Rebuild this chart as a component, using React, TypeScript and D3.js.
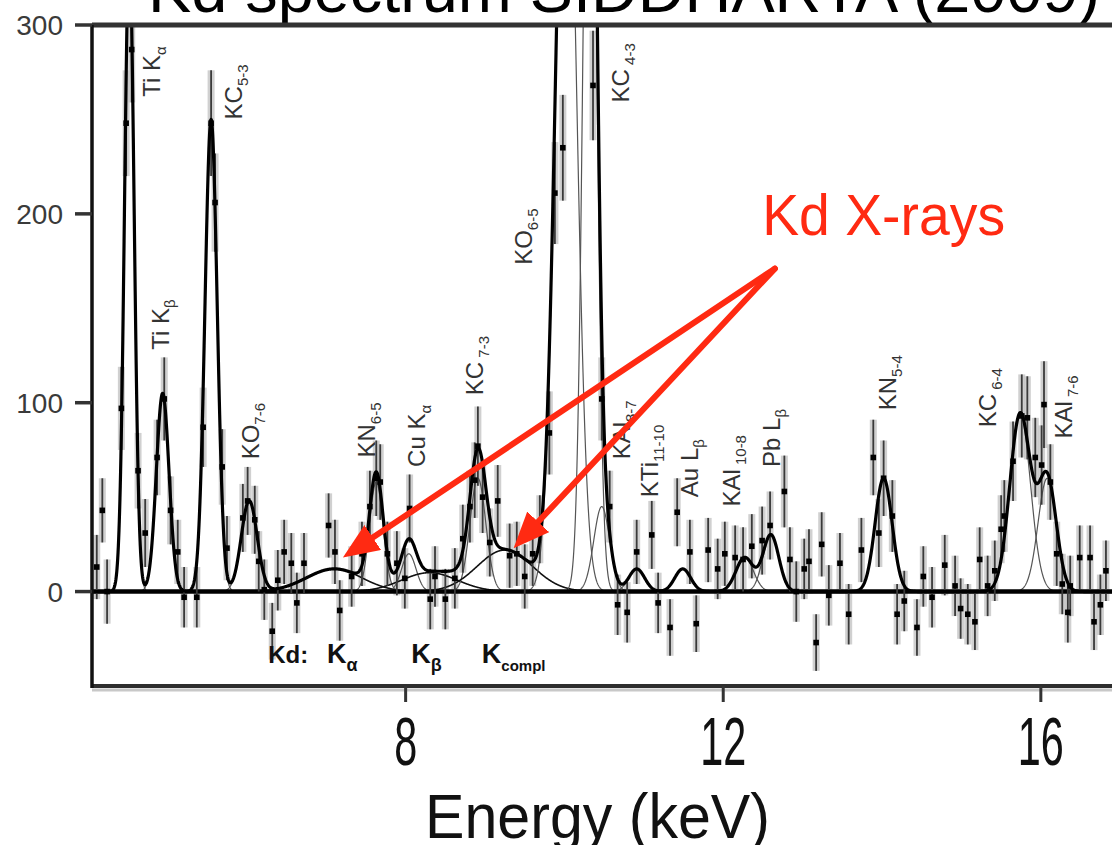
import React from "react";
import * as d3 from "d3";

// ---------- axes ----------
const X_DOMAIN: [number, number] = [4.05, 17.5];
const Y_DOMAIN: [number, number] = [-50, 300];
const X_TICKS = [8, 12, 16];
const Y_TICKS = [0, 100, 200, 300];
const TITLE = "Kd spectrum SIDDHARTA (2009)";
const X_LABEL = "Energy (keV)";

// ---------- measured points (energy keV, counts, error) ----------
const energies = [
  4.11, 4.18, 4.24, 4.42, 4.48, 4.55, 4.63, 4.72, 4.87, 4.96, 5.04, 5.13, 5.21, 5.37, 5.45, 5.55, 5.6,
  5.69, 5.75, 5.95, 6.01, 6.1, 6.15, 6.22, 6.32, 6.39, 6.47, 6.56, 6.63, 6.72, 7.03, 7.11, 7.17, 7.32,
  7.45, 7.55, 7.63, 7.68, 7.77, 7.89, 7.99, 8.05, 8.31, 8.37, 8.5, 8.62, 8.72, 8.81, 8.87, 8.91, 8.97,
  9.06, 9.16, 9.31, 9.4, 9.5, 9.6, 9.69, 9.81, 9.88, 9.98, 10.36, 10.47, 10.57, 10.67, 10.79, 10.91,
  11.1, 11.18, 11.33, 11.42, 11.58, 11.66, 11.81, 11.93, 12.02, 12.15, 12.25, 12.36, 12.49, 12.59,
  12.77, 12.84, 12.92, 13.02, 13.08, 13.17, 13.24, 13.33, 13.47, 13.58, 13.74, 13.89, 13.96, 14.02,
  14.13, 14.19, 14.28, 14.44, 14.52, 14.63, 14.79, 14.92, 14.99, 15.08, 15.17, 15.23, 15.33, 15.42,
  15.5, 15.54, 15.65, 15.76, 15.83, 15.93, 16.01, 16.04, 16.12, 16.2, 16.27, 16.34, 16.37, 16.49,
  16.62, 16.67, 16.75, 16.82,
];
const counts = [
  13, 43, 0, 97, 248, 287, 64, 31, 71, 102, 43, 21, -3, -3, 87, 248, 206,
  66, 23, 39, 48, 38, 16, 1, -21, 6, 21, 15, -6, 15, 35, 21, -10, 8,
  20, 45, 60, 58, 20, 15, 7, 44, -4, 8, -4, 7, 28, 45, 59, 77, 50,
  26, 48, 19, 20, 8, 20, 33, 84, 211, 235, 268, 102, 45, -7, -11, 21,
  30, -6, -19, 42, 21, -17, 22, 12, 20, 18, 17, 24, 27, 35,
  53, 17, 0, 12, 16, -27, 25, -2, 15, -12, 22, 71, 31, 60,
  40, -12, -5, -19, 8, -3, 14, 3, -9, -12, -16, 17, 3, 11,
  33, 40, 69, 93, 92, 71, 67, 99, 58, 20, 4, -11, 3, 18,
  18, -16, -7, 11,
];
const errors = [
  17, 17, 17, 22, 28, 28, 20, 18, 20, 22, 18, 17, 16, 16, 21, 28, 26,
  20, 17, 18, 18, 18, 16, 16, 15, 16, 17, 16, 16, 16, 17, 17, 16, 16,
  17, 19, 20, 20, 17, 17, 16, 18, 16, 16, 16, 16, 18, 19, 20, 21, 19,
  18, 19, 17, 17, 17, 17, 18, 22, 27, 28, 29, 22, 19, 16, 16, 17,
  18, 16, 15, 18, 17, 15, 17, 16, 17, 17, 17, 17, 18, 18,
  19, 17, 16, 16, 17, 15, 17, 16, 16, 16, 17, 20, 18, 20,
  19, 16, 16, 15, 16, 16, 16, 16, 16, 16, 15, 17, 16, 16,
  18, 19, 21, 22, 22, 21, 21, 23, 20, 17, 16, 16, 16, 17,
  17, 15, 16, 16,
];

// ---------- fitted components (gaussians) ----------
const componentNames = [
  "Ti Kα", "Ti Kβ", "KC 5-3", "KO 7-6", "Kd Kα", "KN 6-5", "Cu Kα", "Kd Kβ", "KC 7-3", "Kd Kcompl",
  "KO 6-5", "KC 4-3", "KAl 8-7", "KTi 11-10", "Au Lβ", "KAl 10-8", "Pb Lβ", "KN 5-4", "KC 6-4", "KAl 7-6",
];
const componentCenters = [4.52, 4.94, 5.55, 6.03, 7.1, 7.63, 8.04, 8.3, 8.91, 9.25, 10.02, 10.32, 10.47, 10.91, 11.49, 12.27, 12.6, 14.02, 15.74, 16.08];
const componentHeights = [340, 105, 250, 48, 12, 58, 20, 10, 60, 22, 450, 520, 45, 12, 12, 18, 30, 60, 94, 60];
const componentSigmas = [0.06, 0.08, 0.077, 0.1, 0.35, 0.085, 0.09, 0.35, 0.1, 0.35, 0.13, 0.08, 0.1, 0.1, 0.1, 0.11, 0.1, 0.107, 0.13, 0.115];
const kdComponents = ["Kd Kα", "Kd Kβ", "Kd Kcompl"];

// ---------- peak labels (rotated), anchored in data coords ----------
const peakLabelMain = ["Ti K", "Ti K", "KC", "KO", "KN", "Cu K", "KC", "KO", "KC", "KAl", "KTi", "Au L", "KAl", "Pb L", "KN", "KC", "KAl"];
const peakLabelSub = ["α", "β", "5-3", "7-6", "6-5", "α", " 7-3", "6-5", " 4-3", "8-7", "11-10", "β", " 10-8", "β", "5-4", " 6-4", " 7-6"];
const peakLabelE = [4.8, 4.91, 5.83, 6.05, 7.5, 8.13, 8.86, 9.48, 10.7, 10.72, 11.07, 11.57, 12.1, 12.61, 14.07, 15.33, 16.29];
const peakLabelY = [262, 128, 250, 70, 71, 66, 104, 173, 259, 70, 50, 50, 45, 66, 96, 87, 81];

// ---------- Kd labels under zero line ----------
const kdLabelMain = ["Kd:", "K", "K", "K"];
const kdLabelSub = ["", "α", "β", "compl"];
const kdLabelE = [6.27, 7.01, 8.07, 8.96];
const kdLabelY = -38;

// ---------- annotation ----------
const annotationText = "Kd X-rays";
const annotationTextE = 12.49;
const annotationTextY = 189;
const arrowFrom: [number, number] = [12.65, 171];
const arrowTips: [number, number][] = [[7.21, 18], [9.36, 23]];

const SANS = "'Liberation Sans', Arial, Helvetica, sans-serif";
const NARROW = "'Liberation Sans Narrow', 'Arial Narrow', 'Liberation Sans', Arial, sans-serif";
const RED = "#ff2a12";

function gauss(e: number, c: number, h: number, s: number) {
  const z = (e - c) / s;
  return h * Math.exp(-0.5 * z * z);
}

export default function App() {
  const W = 1112;
  const H = 845;
  const left = 92;
  const top = 25;
  const bottom = 686;
  const x = d3.scaleLinear().domain(X_DOMAIN).range([left, left + 13.45 * 79.4]);
  const y = d3.scaleLinear().domain(Y_DOMAIN).range([bottom, top]);

  const grid = d3.range(X_DOMAIN[0], X_DOMAIN[1], 0.004);
  const comps = componentNames.map((n, i) => ({
    name: n,
    c: componentCenters[i],
    h: componentHeights[i],
    s: componentSigmas[i],
  }));
  const line = d3
    .line<[number, number]>()
    .x((d) => x(d[0]))
    .y((d) => y(Math.min(d[1], 340)));

  const compPaths = comps.map((cp) => {
    const pts = grid
      .filter((e) => Math.abs(e - cp.c) < cp.s * 4.5)
      .map((e) => [e, gauss(e, cp.c, cp.h, cp.s)] as [number, number]);
    return { name: cp.name, d: line(pts) || "" };
  });
  const totalPts = grid.map((e) => [e, comps.reduce((a, cp) => a + gauss(e, cp.c, cp.h, cp.s), 0)] as [number, number]);
  const totalD = line(totalPts) || "";

  const points = energies.map((e, i) => ({ e, v: counts[i], err: errors[i] }));

  const [fx, fy] = [x(arrowFrom[0]), y(arrowFrom[1])];

  return (
    <svg
      width={W}
      height={H}
      style={{ position: "absolute", left: 0, top: 0, display: "block", overflow: "hidden", background: "#fff" }}
    >
      <defs>
        <clipPath id="plot">
          <rect x={left} y={top} width={W - left} height={bottom - top} />
        </clipPath>
        <marker id="ah" markerUnits="userSpaceOnUse" markerWidth={36} markerHeight={30} viewBox="0 0 36 30" refX={14} refY={15} orient="auto">
          <path d="M0,0 L36,15 L0,30 z" fill={RED} />
        </marker>
      </defs>

      {/* title (cut off at top) */}
      <text x={148} y={12} fontFamily={SANS} fontSize={64} fill="#000" textLength={952} lengthAdjust="spacingAndGlyphs">
        {TITLE}
      </text>

      <g clipPath="url(#plot)">
        {/* error bands */}
        {points.map((p, i) => (
          <rect key={"b" + i} x={x(p.e) - 3.5} width={7} y={y(p.v + p.err)} height={y(p.v - p.err) - y(p.v + p.err)} fill="#c4c4c4" opacity={0.8} />
        ))}
        {/* components */}
        {compPaths.map((cp, i) => (
          <path
            key={"c" + i}
            d={cp.d}
            fill="none"
            stroke={kdComponents.includes(cp.name) ? "#111" : "#555"}
            strokeWidth={kdComponents.includes(cp.name) ? 1.6 : 1.2}
          />
        ))}
        {/* zero line */}
        <line x1={left} x2={W} y1={y(0)} y2={y(0)} stroke="#000" strokeWidth={4.5} />
        {/* error bars */}
        {points.map((p, i) => (
          <line key={"e" + i} x1={x(p.e)} x2={x(p.e)} y1={y(p.v + p.err)} y2={y(p.v - p.err)} stroke="#3a3a3a" strokeWidth={1.8} />
        ))}
        {/* total fit */}
        <path d={totalD} fill="none" stroke="#000" strokeWidth={3.2} strokeLinejoin="round" />
        {/* points */}
        {points.map((p, i) => (
          <rect key={"p" + i} x={x(p.e) - 2.8} y={y(p.v) - 2.8} width={5.6} height={5.6} fill="#000" />
        ))}
      </g>

      {/* frame */}
      <line x1={left} x2={W} y1={top} y2={top} stroke="#333" strokeWidth={5} />
      <line x1={left} x2={W} y1={bottom + 4} y2={bottom + 4} stroke="#c8c8c8" strokeWidth={3} />
      <line x1={left} x2={W} y1={bottom} y2={bottom} stroke="#2e2e2e" strokeWidth={4} />
      <line x1={left} x2={left} y1={top} y2={bottom + 2} stroke="#111" strokeWidth={3.5} />

      {/* y ticks */}
      {Y_TICKS.map((t) => (
        <g key={"yt" + t}>
          <line x1={left - 17} x2={left} y1={y(t)} y2={y(t)} stroke="#333" strokeWidth={3.5} />
          <text x={63} y={y(t)} dy="0.36em" textAnchor="end" fontFamily={SANS} fontSize={28} fill="#3a3a3a">
            {t}
          </text>
        </g>
      ))}

      {/* x ticks */}
      {X_TICKS.map((t) => (
        <g key={"xt" + t}>
          <line x1={x(t)} x2={x(t)} y1={bottom} y2={bottom + 16} stroke="#333" strokeWidth={3} />
          <text
            x={x(t)}
            y={765}
            textAnchor="middle"
            fontFamily={NARROW}
            fontSize={68}
            fill="#111"
            textLength={String(t).length * 23}
            lengthAdjust="spacingAndGlyphs"
          >
            {t}
          </text>
        </g>
      ))}
      <text x={425} y={838} fontFamily={NARROW} fontSize={63} fill="#111" textLength={345} lengthAdjust="spacingAndGlyphs">
        {X_LABEL}
      </text>

      {/* peak labels */}
      {peakLabelMain.map((m, i) => (
        <text
          key={"pl" + i}
          transform={`translate(${x(peakLabelE[i])},${y(peakLabelY[i])}) rotate(-90)`}
          dy="0.36em"
          fontFamily={SANS}
          fontSize={24}
          fill="#333"
        >
          {m}
          <tspan fontSize={15} dy={6}>
            {peakLabelSub[i]}
          </tspan>
        </text>
      ))}

      {/* Kd labels */}
      {kdLabelMain.map((m, i) => (
        <text key={"kd" + i} x={x(kdLabelE[i])} y={y(kdLabelY)} fontFamily={SANS} fontSize={i === 0 ? 24 : 27} fontWeight="bold" fill="#111">
          {m}
          {kdLabelSub[i] ? (
            <tspan fontSize={i === 3 ? 15 : 18} dy={8}>
              {kdLabelSub[i]}
            </tspan>
          ) : null}
        </text>
      ))}

      {/* annotation */}
      <text x={x(annotationTextE)} y={y(annotationTextY)} fontFamily={SANS} fontSize={57} fill={RED} textLength={243} lengthAdjust="spacingAndGlyphs">
        {annotationText}
      </text>
      {arrowTips.map((tp, i) => {
        const tx = x(tp[0]);
        const ty = y(tp[1]);
        const dx = tx - fx;
        const dy = ty - fy;
        const len = Math.hypot(dx, dy);
        const ex = tx - (dx / len) * 22;
        const ey = ty - (dy / len) * 22;
        return (
          <line key={"ar" + i} x1={fx} y1={fy} x2={ex} y2={ey} stroke={RED} strokeWidth={6} strokeLinecap="round" markerEnd="url(#ah)" />
        );
      })}
    </svg>
  );
}
